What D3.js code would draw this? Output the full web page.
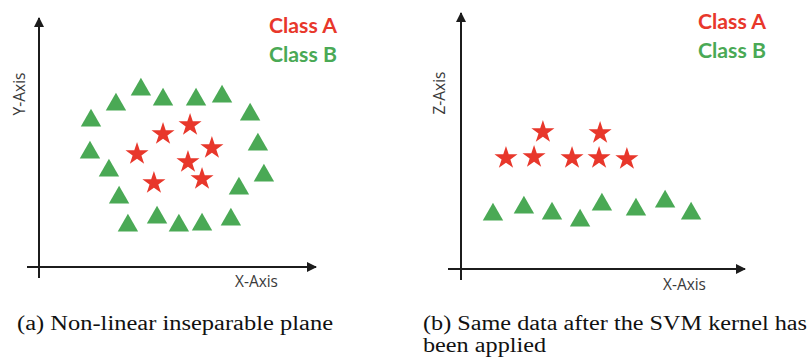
<!DOCTYPE html>
<html>
<head>
<meta charset="utf-8">
<script src="https://cdn.jsdelivr.net/npm/d3@7"></script>
<style>
  html, body { margin: 0; padding: 0; background: #ffffff; }
  svg { display: block; }
</style>
</head>
<body>
<svg id="chart" width="809" height="358"></svg>
<script>
// ---------------- DATA ----------------
// Panel (a): original 2-D data (arbitrary units, 0..10)
const classA_left_x = [4.77, 5.81, 3.77, 6.65, 5.73, 4.42, 6.27];
const classA_left_y = [5.36, 5.72, 4.56, 4.80, 4.24, 3.40, 3.56];
const classB_left_x = [2.00, 2.96, 3.92, 4.77, 6.04, 7.04, 8.12, 1.96, 8.42, 2.69, 8.65, 3.08, 7.69, 3.42, 4.54, 5.38, 6.27, 7.38];
const classB_left_y = [5.96, 6.60, 7.20, 6.80, 6.80, 6.92, 6.20, 4.68, 5.00, 3.96, 3.76, 2.88, 3.24, 1.76, 2.08, 1.76, 1.80, 2.00];

// Panel (b): after kernel (x vs z)
const classA_right_x = [3.15, 5.35, 1.73, 2.81, 4.27, 5.31, 6.38];
const classA_right_z = [5.52, 5.48, 4.48, 4.52, 4.48, 4.48, 4.44];
const classB_right_x = [1.23, 2.42, 3.50, 4.58, 5.42, 6.73, 7.85, 8.85];
const classB_right_z = [2.28, 2.56, 2.32, 2.04, 2.68, 2.48, 2.80, 2.32];

const legendLabels = ["Class A", "Class B"];
const axisLabelsLeft = ["X-Axis", "Y-Axis"];
const axisLabelsRight = ["X-Axis", "Z-Axis"];
const captionLeft = ["(a) Non-linear inseparable plane"];
const captionRight = ["(b) Same data after the SVM kernel has", "been applied"];

// ---------------- STYLE ----------------
const RED = "#e8372b";
const GREEN = "#4aa955";
const AXIS = "#1c1c1c";
const LABEL = "#3a3a3a";

const svg = d3.select("#chart");

svg.append("defs").append("marker")
  .attr("id", "arrow")
  .attr("viewBox", "0 0 10 10")
  .attr("refX", 9).attr("refY", 5)
  .attr("markerWidth", 5).attr("markerHeight", 5)
  .attr("markerUnits", "strokeWidth")
  .attr("orient", "auto")
  .append("path").attr("d", "M0,0 L10,5 L0,10 z").attr("fill", AXIS);

function fitWidth(sel, target) {
  const node = sel.node();
  const w = node.getComputedTextLength();
  const fs = parseFloat(sel.attr("font-size"));
  sel.attr("font-size", fs * target / w);
}

const star = d3.symbol().type(d3.symbolStar).size(165);
const tri = d3.symbol().type(d3.symbolTriangle).size(180);

function panel(cfg) {
  const g = svg.append("g");
  const x = d3.scaleLinear().domain([0, 10]).range(cfg.xRange);
  const y = d3.scaleLinear().domain([0, 10]).range(cfg.yRange);

  // axes
  g.append("line")
    .attr("x1", cfg.yAxisX).attr("y1", cfg.yAxisBottom)
    .attr("x2", cfg.yAxisX).attr("y2", cfg.yAxisTop)
    .attr("stroke", AXIS).attr("stroke-width", 2)
    .attr("marker-end", "url(#arrow)");
  g.append("line")
    .attr("x1", cfg.xAxisLeft).attr("y1", cfg.xAxisY)
    .attr("x2", cfg.xAxisRight).attr("y2", cfg.xAxisY)
    .attr("stroke", AXIS).attr("stroke-width", 2)
    .attr("marker-end", "url(#arrow)");

  // axis labels
  const xl = g.append("text")
    .attr("x", cfg.xLabelPos[0]).attr("y", cfg.xLabelPos[1])
    .attr("font-family", "'Open Sans', Lato, sans-serif")
    .attr("font-size", 15).attr("fill", LABEL)
    .text(cfg.axisLabels[0]);
  fitWidth(xl, 43);
  const yl = g.append("text")
    .attr("transform", `translate(${cfg.yLabelPos[0]},${cfg.yLabelPos[1]}) rotate(-90)`)
    .attr("text-anchor", "middle")
    .attr("font-family", "'Open Sans', Lato, sans-serif")
    .attr("font-size", 15).attr("fill", LABEL)
    .text(cfg.axisLabels[1]);
  fitWidth(yl, 43);

  // legend
  legendLabels.forEach((t, i) => {
    const lt = g.append("text")
      .attr("x", cfg.legendX).attr("y", cfg.legendY[i])
      .attr("font-family", "Lato, 'Open Sans', sans-serif")
      .attr("font-weight", "bold")
      .attr("font-size", 20)
      .attr("fill", i === 0 ? RED : GREEN)
      .text(t);
    fitWidth(lt, 68);
  });

  // class B triangles (shift so the bounding-box centre sits on the point)
  const bData = cfg.bx.map((v, i) => ({ x: v, y: cfg.by[i] }));
  g.selectAll("path.tri").data(bData).join("path")
    .attr("class", "tri")
    .attr("d", tri)
    .attr("transform", d => `translate(${x(d.x)},${y(d.y) + 2.5})`)
    .attr("fill", GREEN);

  // class A stars
  const aData = cfg.ax.map((v, i) => ({ x: v, y: cfg.ay[i] }));
  g.selectAll("path.star").data(aData).join("path")
    .attr("class", "star")
    .attr("d", star)
    .attr("transform", d => `translate(${x(d.x)},${y(d.y) + 1})`)
    .attr("fill", RED);
}

panel({
  xRange: [39, 299], yRange: [267, 17],
  yAxisX: 39, yAxisTop: 18, yAxisBottom: 278,
  xAxisY: 267, xAxisLeft: 27, xAxisRight: 316,
  xLabelPos: [235, 287], yLabelPos: [25, 94],
  axisLabels: axisLabelsLeft,
  legendX: 269, legendY: [33, 62],
  ax: classA_left_x, ay: classA_left_y,
  bx: classB_left_x, by: classB_left_y
});

panel({
  xRange: [461, 721], yRange: [269, 19],
  yAxisX: 461, yAxisTop: 13, yAxisBottom: 280,
  xAxisY: 269, xAxisLeft: 448, xAxisRight: 745,
  xLabelPos: [663, 290], yLabelPos: [445, 93],
  axisLabels: axisLabelsRight,
  legendX: 698, legendY: [29, 58],
  ax: classA_right_x, ay: classA_right_z,
  bx: classB_right_x, by: classB_right_z
});

// captions (serif, stretched horizontally to the reference width)
const serif = "'Liberation Serif', 'DejaVu Serif', serif";
function caption(txt, x, y) {
  return svg.append("text").attr("x", x).attr("y", y)
    .attr("font-family", serif).attr("font-size", 20).attr("fill", "#111")
    .text(txt);
}
function stretch(t, k) {
  t.attr("textLength", t.node().getComputedTextLength() * k)
   .attr("lengthAdjust", "spacingAndGlyphs");
}
const ca = caption(captionLeft[0], 17, 330);
stretch(ca, 316 / ca.node().getComputedTextLength());
const cb1 = caption(captionRight[0], 423, 330);
const kb = 384 / cb1.node().getComputedTextLength();
stretch(cb1, kb);
const cb2 = caption(captionRight[1], 423, 352);
stretch(cb2, kb);
</script>
</body>
</html>
